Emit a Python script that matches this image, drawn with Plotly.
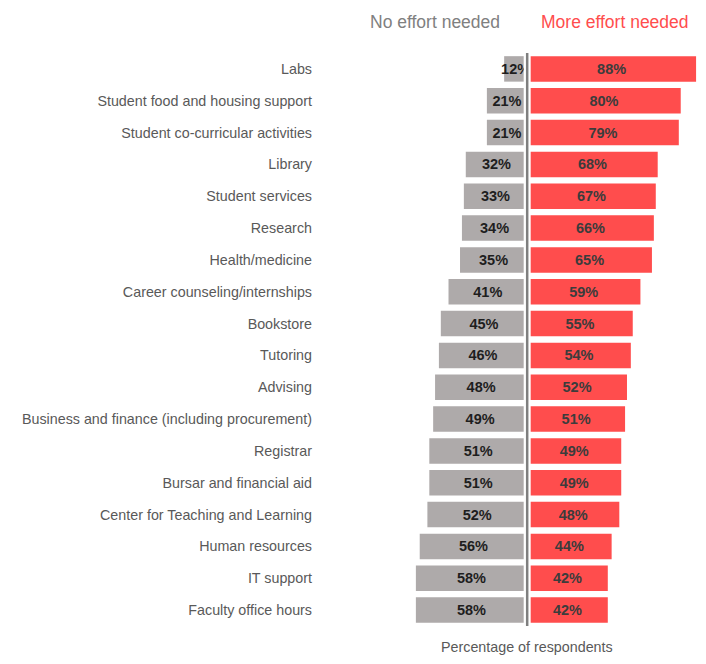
import plotly.graph_objects as go

categories = [
    "Labs",
    "Student food and housing support",
    "Student co-curricular activities",
    "Library",
    "Student services",
    "Research",
    "Health/medicine",
    "Career counseling/internships",
    "Bookstore",
    "Tutoring",
    "Advising",
    "Business and finance (including procurement)",
    "Registrar",
    "Bursar and financial aid",
    "Center for Teaching and Learning",
    "Human resources",
    "IT support",
    "Faculty office hours",
]
no_effort = [12, 21, 21, 32, 33, 34, 35, 41, 45, 46, 48, 49, 51, 51, 52, 56, 58, 58]
more_effort = [88, 80, 79, 68, 67, 66, 65, 59, 55, 54, 52, 51, 49, 49, 48, 44, 42, 42]

FONT = "Liberation Sans, Arial"
GREY = "#aeaaaa"
RED = "#ff4d4d"

fig = go.Figure()

fig.add_trace(go.Bar(
    y=categories,
    x=[-v for v in no_effort],
    orientation="h",
    marker=dict(color=GREY, line=dict(width=0)),
    text=[f"{v}%" for v in no_effort],
    textposition="inside",
    insidetextanchor="middle",
    textangle=0,
    constraintext="none",
    textfont=dict(family=FONT, size=14.5, color="#1e1e1e", weight="bold"),
    hoverinfo="skip",
    name="No effort needed",
))

fig.add_trace(go.Bar(
    y=categories,
    x=more_effort,
    orientation="h",
    marker=dict(color=RED, line=dict(width=0)),
    text=[f"{v}%" for v in more_effort],
    textposition="inside",
    insidetextanchor="middle",
    textangle=0,
    constraintext="none",
    textfont=dict(family=FONT, size=14.5, color="#3c3c3c", weight="bold"),
    hoverinfo="skip",
    name="More effort needed",
))

# white gap around the centre line, then the line itself
fig.add_shape(type="line", xref="x", yref="paper", x0=0, x1=0, y0=0, y1=1,
              line=dict(color="white", width=7), layer="above")
fig.add_shape(type="line", xref="x", yref="paper", x0=0, x1=0, y0=0, y1=1,
              line=dict(color="#7f7f7f", width=2.5), layer="above")

fig.add_annotation(text="No effort needed", xref="x", yref="paper", x=-48, y=1,
                   yshift=31, showarrow=False, xanchor="center", yanchor="middle",
                   font=dict(family=FONT, size=17.5, color="#808080"))
fig.add_annotation(text="More effort needed", xref="x", yref="paper", x=46, y=1,
                   yshift=31, showarrow=False, xanchor="center", yanchor="middle",
                   font=dict(family=FONT, size=17.5, color=RED))
fig.add_annotation(text="Percentage of respondents", xref="x", yref="paper", x=0, y=0,
                   yshift=-21, showarrow=False, xanchor="center", yanchor="middle",
                   font=dict(family=FONT, size=14.3, color="#595959"))

# page body adds an 8px offset, so the figure is drawn a bit smaller
fig.update_layout(
    width=698,
    height=656,
    barmode="relative",
    bargap=0.2,
    showlegend=False,
    plot_bgcolor="white",
    paper_bgcolor="white",
    margin=dict(l=405, r=8, t=45, b=38),
    xaxis=dict(range=[-59.5, 89], visible=False, fixedrange=True),
    yaxis=dict(
        categoryorder="array",
        categoryarray=categories,
        autorange="reversed",
        automargin=False,
        showgrid=False,
        zeroline=False,
        showline=False,
        ticks="",
        ticklabelstandoff=100,
        tickfont=dict(family=FONT, size=14.3, color="#595959"),
    ),
)

fig.write_html("out.html")
